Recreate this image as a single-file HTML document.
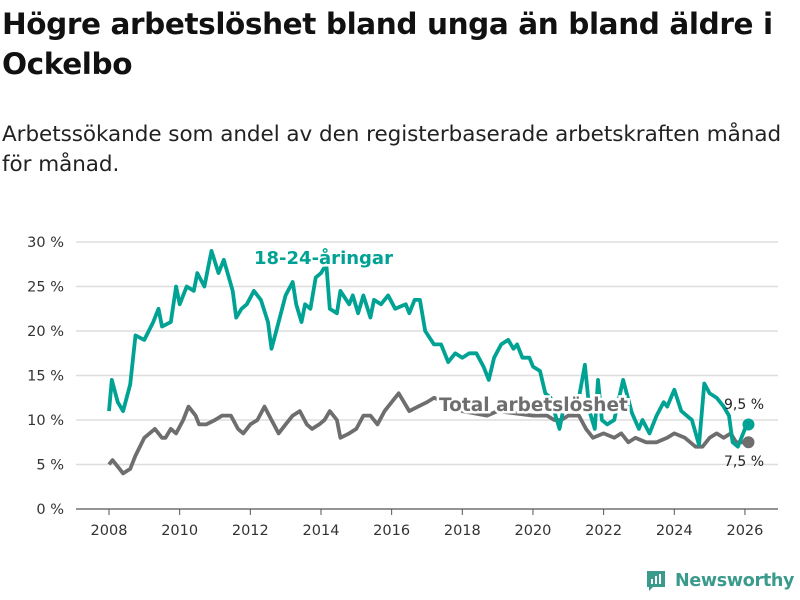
<!DOCTYPE html>
<html><head><meta charset="utf-8">
<style>
body{margin:0;width:800px;height:600px;background:#fff;font-family:"DejaVu Sans",sans-serif;overflow:hidden;position:relative}
h1{position:absolute;left:2px;top:4px;margin:0;font-size:29.5px;line-height:40px;font-weight:bold;color:#111;width:798px;letter-spacing:-0.4px}
p{position:absolute;left:2px;top:120px;margin:0;font-size:21.5px;line-height:30px;color:#222;width:798px;letter-spacing:-0.05px;white-space:nowrap}
svg{position:absolute;left:0;top:0}
</style></head><body>
<h1>Högre arbetslöshet bland unga än bland äldre i Ockelbo</h1>
<p>Arbetssökande som andel av den registerbaserade arbetskraften månad<br>för månad.</p>
<svg width="800" height="600" id="chart"></svg>
<script>
const yearTicks=[2008,2010,2012,2014,2016,2018,2020,2022,2024,2026];
const pctTicks=[0,5,10,15,20,25,30];
const youngX=[2008.0,2008.08,2008.25,2008.4,2008.6,2008.75,2009.0,2009.25,2009.4,2009.5,2009.75,2009.9,2010.0,2010.2,2010.4,2010.5,2010.7,2010.8,2010.9,2011.1,2011.25,2011.5,2011.6,2011.75,2011.9,2012.1,2012.3,2012.5,2012.6,2012.8,2013.0,2013.2,2013.3,2013.45,2013.55,2013.7,2013.85,2014.0,2014.15,2014.25,2014.45,2014.55,2014.8,2014.9,2015.05,2015.2,2015.4,2015.5,2015.7,2015.9,2016.1,2016.4,2016.5,2016.65,2016.8,2016.95,2017.2,2017.4,2017.6,2017.8,2018.0,2018.2,2018.4,2018.6,2018.75,2018.9,2019.1,2019.3,2019.45,2019.55,2019.7,2019.9,2020.0,2020.2,2020.35,2020.5,2020.6,2020.75,2020.85,2021.0,2021.15,2021.3,2021.47,2021.6,2021.75,2021.84,2021.95,2022.1,2022.3,2022.55,2022.8,2023.0,2023.1,2023.3,2023.5,2023.7,2023.8,2024.0,2024.2,2024.5,2024.7,2024.85,2025.0,2025.2,2025.4,2025.55,2025.65,2025.8,2026.0,2026.1];
const youngV=[11,14.5,12,11,14,19.5,19,21,22.5,20.5,21,25,23,25,24.5,26.5,25,27,29,26.5,28,24.5,21.5,22.5,23,24.5,23.5,21,18,21,24,25.5,23,21,23,22.5,26,26.5,27.5,22.5,22,24.5,23,24,22,24,21.5,23.5,23,24,22.5,23,22,23.5,23.5,20,18.5,18.5,16.5,17.5,17,17.5,17.5,16,14.5,17,18.5,19,18,18.5,17,17,16,15.5,13,12.5,11,9,11,12,12,12.5,16.2,11,9,14.5,10,9.5,10,14.5,10.8,9,10,8.5,10.5,12,11.5,13.4,11,10,7.2,14.1,13,12.5,11.5,10.5,7.5,7,9,9.5];
const totalX=[2008.0,2008.1,2008.3,2008.4,2008.6,2008.75,2009.0,2009.3,2009.5,2009.6,2009.75,2009.9,2010.1,2010.25,2010.45,2010.55,2010.75,2011.0,2011.2,2011.45,2011.65,2011.8,2012.0,2012.2,2012.4,2012.6,2012.8,2013.0,2013.2,2013.4,2013.6,2013.75,2013.95,2014.1,2014.25,2014.45,2014.55,2014.8,2015.0,2015.2,2015.4,2015.6,2015.8,2016.0,2016.2,2016.35,2016.5,2016.75,2017.0,2017.2,2017.5,2018.0,2018.7,2019.0,2020.0,2020.4,2020.6,2020.8,2021.0,2021.3,2021.5,2021.7,2022.0,2022.3,2022.5,2022.7,2022.9,2023.2,2023.5,2023.8,2024.0,2024.3,2024.6,2024.8,2025.0,2025.2,2025.4,2025.6,2025.75,2025.9,2026.1];
const totalV=[5,5.5,4.5,4,4.5,6,8,9,8,8,9,8.5,10,11.5,10.5,9.5,9.5,10,10.5,10.5,9,8.5,9.5,10,11.5,10,8.5,9.5,10.5,11,9.5,9,9.5,10,11,10,8,8.5,9,10.5,10.5,9.5,11,12,13,12,11,11.5,12,12.5,12,11,10.5,11,10.5,10.5,10,10,10.5,10.5,9,8,8.5,8,8.5,7.5,8,7.5,7.5,8,8.5,8,7,7,8,8.5,8,8.5,7.5,7.5,7.5];
const NS='http://www.w3.org/2000/svg';
const svg=document.getElementById('chart');
const xS=y=>109+(y-2008)*35.33;
const yS=v=>509-v*8.9;
const F='DejaVu Sans, sans-serif';
function mk(t,a){const e=document.createElementNS(NS,t);for(const k in a)e.setAttribute(k,a[k]);svg.appendChild(e);return e;}
pctTicks.forEach(v=>{
 const g=mk('line',{x1:76,x2:778,y1:yS(v),y2:yS(v),stroke:v===0?'#555':'#ddd','stroke-width':v===0?1.2:1.5});
 
 
 const t=mk('text',{x:64,y:yS(v)+5,'text-anchor':'end','font-size':14.5,fill:'#333','font-family':F});
 t.textContent=v+' %';
 
 
});
yearTicks.forEach(y=>{
 const l=mk('line',{x1:xS(y),x2:xS(y),y1:509,y2:515,stroke:'#555'});
 
 
 const t=mk('text',{x:xS(y),y:535,'text-anchor':'middle','font-size':14.5,fill:'#333','font-family':F});
 t.textContent=y;
 
 
});
function line(X,V,c,name){
 const d=X.map((x,i)=>(i?'L':'M')+xS(x).toFixed(1)+','+yS(V[i]).toFixed(1)).join('');
 const p=mk('path',{d:d,fill:'none',stroke:c,'stroke-width':3.8,'stroke-linejoin':'round'});
 
 
 const n=X.length-1;
 const dot=mk('circle',{cx:xS(X[n]),cy:yS(V[n]),r:6,fill:c});
 
 
}
line(totalX,totalV,'#6e6e6e','total-line');
line(youngX,youngV,'#00a294','young-line');
const l1=mk('text',{x:254,y:264,'font-size':18,'font-weight':'bold',fill:'#00a294','font-family':F,stroke:'#fff','stroke-width':5,'paint-order':'stroke'});
l1.textContent='18-24-åringar';


const l2=mk('text',{x:439,y:411,'font-size':18.5,'font-weight':'bold',fill:'#6e6e6e','font-family':F,stroke:'#fff','stroke-width':5,'paint-order':'stroke'});
l2.textContent='Total arbetslöshet';


const v1=mk('text',{x:724,y:409,'font-size':14,fill:'#222','font-family':F});
v1.textContent='9,5 %';


const v2=mk('text',{x:724,y:466,'font-size':14,fill:'#222','font-family':F});
v2.textContent='7,5 %';


</script>
<div style="position:absolute;left:645px;top:569px;display:flex;align-items:center">
 <svg width="22" height="24" style="position:static" viewBox="0 0 22 24"><path d="M2 2h18v16H8l-4 4v-4H2z" fill="#3a9a8c"/><rect x="6" y="10" width="2" height="5" fill="#fff"/><rect x="10" y="7" width="2" height="8" fill="#fff"/><rect x="14" y="5" width="2" height="10" fill="#fff"/></svg>
 <span style="margin-left:8px;font-size:17.5px;color:#3a9a8c;font-weight:bold;letter-spacing:-0.3px">Newsworthy</span>
</div>
</body></html>
